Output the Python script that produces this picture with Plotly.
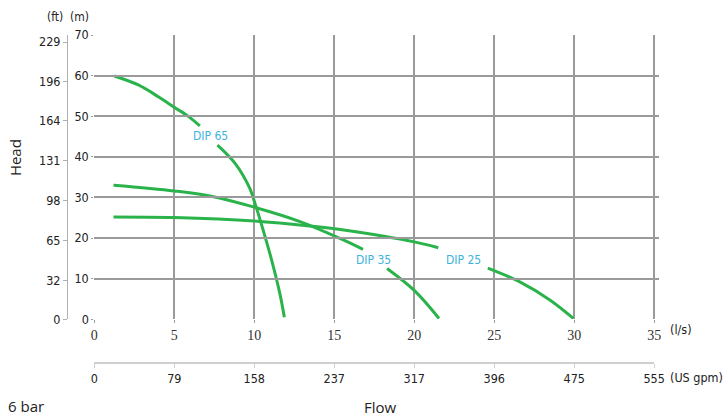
import plotly.graph_objects as go

# ---- data ----
dip65_q = [1.25, 2.75, 4.0, 5.0, 5.9, 6.6, None, 7.7, 8.8, 9.7, 10.08, 10.56, 11.09, 11.6, 11.88]
dip65_h = [59.9, 57.7, 54.8, 52.2, 49.9, 47.6, None, 42.9, 38.4, 32.4, 28.1, 21.9, 14.5, 6.3, 0.5]

dip35_q = [1.2, 5.0, 7.3, 10.0, 12.9, 15.7, 16.8, None, 18.3, 20.0, 21.55]
dip35_h = [33.0, 31.6, 30.3, 27.6, 24.0, 19.3, 17.2, None, 12.5, 7.1, 0.2]

dip25_q = [1.2, 5.0, 10.0, 13.6, 15.7, 20.0, 21.5, None, 24.6, 26.6, 28.5, 29.95]
dip25_h = [25.2, 25.05, 24.2, 22.9, 21.9, 19.05, 17.6, None, 12.6, 9.2, 4.7, 0.2]

series_names = ["DIP 65", "DIP 35", "DIP 25"]
label_q = [7.25, 17.45, 23.1]
label_h = [45.1, 14.7, 14.7]

ls_ticks = [0, 5, 10, 15, 20, 25, 30, 35]
gpm_labels = ["0", "79", "158", "237", "317", "396", "475", "555"]
m_ticks = [0, 10, 20, 30, 40, 50, 60, 70]
ft_ticks = [0, 32, 65, 98, 131, 164, 196, 229]

# ---- style ----
GREEN = "#2bb34b"
BLUE = "#3db3dc"
GRID = "#9a9a9a"
NARROW = "DejaVu Sans Condensed, Liberation Sans Narrow, Roboto, sans-serif"
W, H = 726, 417
L, R, T, B = 67, 66.9, 35, 54.3
PW, PH = W - L - R, H - T - B


def px(x):
    return (x - L) / PW


def py(y):
    return (H - B - y) / PH


fig = go.Figure()
for q, h in [(dip65_q, dip65_h), (dip35_q, dip35_h), (dip25_q, dip25_h)]:
    fig.add_trace(go.Scatter(x=q, y=h, mode="lines", line=dict(color=GREEN, width=3, shape="spline", smoothing=1.0),
                             connectgaps=False, showlegend=False, hoverinfo="skip"))
# empty helper traces so the extra axes are drawn
fig.add_trace(go.Scatter(x=[], y=[], xaxis="x2", yaxis="y", showlegend=False))
fig.add_trace(go.Scatter(x=[], y=[], xaxis="x", yaxis="y2", showlegend=False))

x0 = px(94.3)
fig.update_layout(
    width=W, height=H,
    margin=dict(l=L, r=R, t=T, b=B, autoexpand=False),
    paper_bgcolor="white", plot_bgcolor="rgba(0,0,0,0)",
    showlegend=False,
    xaxis=dict(domain=[x0, 1], range=[0, 35.3], tickvals=ls_ticks, ticks="outside", ticklen=3,
               tickcolor=GRID, showgrid=True, gridcolor=GRID, gridwidth=1.5, zeroline=False,
               showline=False, anchor="y",
               tickfont=dict(family="Liberation Serif, Times New Roman, serif", size=14, color="#333"),
               automargin=False),
    xaxis2=dict(domain=[x0, x0 + 560 / PW], range=[0, 35], tickvals=ls_ticks, ticktext=gpm_labels,
                anchor="free", position=0, side="bottom", showgrid=False, zeroline=False,
                showline=True, linecolor="#cfcfcf", linewidth=1.5, ticks="outside", ticklen=4,
                tickcolor="#cfcfcf", tickfont=dict(family=NARROW, size=12.5, color="#222"), automargin=False),
    yaxis=dict(domain=[py(319), 1], range=[0, 70], tickvals=m_ticks, ticks="outside", ticklen=2,
               tickcolor=GRID, showgrid=True, gridcolor=GRID, gridwidth=1.5, zeroline=False,
               showline=False, anchor="x", tickfont=dict(family=NARROW, size=12.5, color="#222"),
               automargin=False),
    yaxis2=dict(range=[0, 234.8], tickvals=ft_ticks, overlaying="y", anchor="free", position=0,
                side="left", showgrid=False, zeroline=False, showline=True, linecolor="#b0b0b0",
                linewidth=1, ticks="outside", ticklen=4, tickcolor="#b0b0b0",
                tickfont=dict(family=NARROW, size=12.5, color="#222"), automargin=False),
)

for name, q, h in zip(series_names, label_q, label_h):
    fig.add_annotation(x=q, y=h, xref="x", yref="y", text=name, showarrow=False,
                       font=dict(family=NARROW, size=12, color=BLUE))

texts = [
    ("(ft)", 55, 17, "center", 12, NARROW, 0),
    ("(m)", 80, 17, "center", 12, NARROW, 0),
    ("(l/s)", 681, 329, "center", 12.5, NARROW, 0),
    ("(US gpm)", 697, 377, "center", 12.5, NARROW, 0),
    ("Flow", 381, 407, "center", 15, "Open Sans, Noto Sans, sans-serif", 0),
    ("6 bar", 26, 406, "center", 15, "Open Sans, Noto Sans, sans-serif", 0),
    ("Head", 15, 158, "center", 15, "Open Sans, Noto Sans, sans-serif", -90),
]
for t, x, y, al, sz, fam, ang in texts:
    fig.add_annotation(x=px(x), y=py(y), xref="paper", yref="paper", text=t, showarrow=False,
                       xanchor=al, yanchor="middle", textangle=ang,
                       font=dict(family=fam, size=sz, color="#222"))

fig.write_html("out.html", config={"displayModeBar": False},
               post_script="document.body.style.margin='0';document.body.style.overflow='hidden';")
